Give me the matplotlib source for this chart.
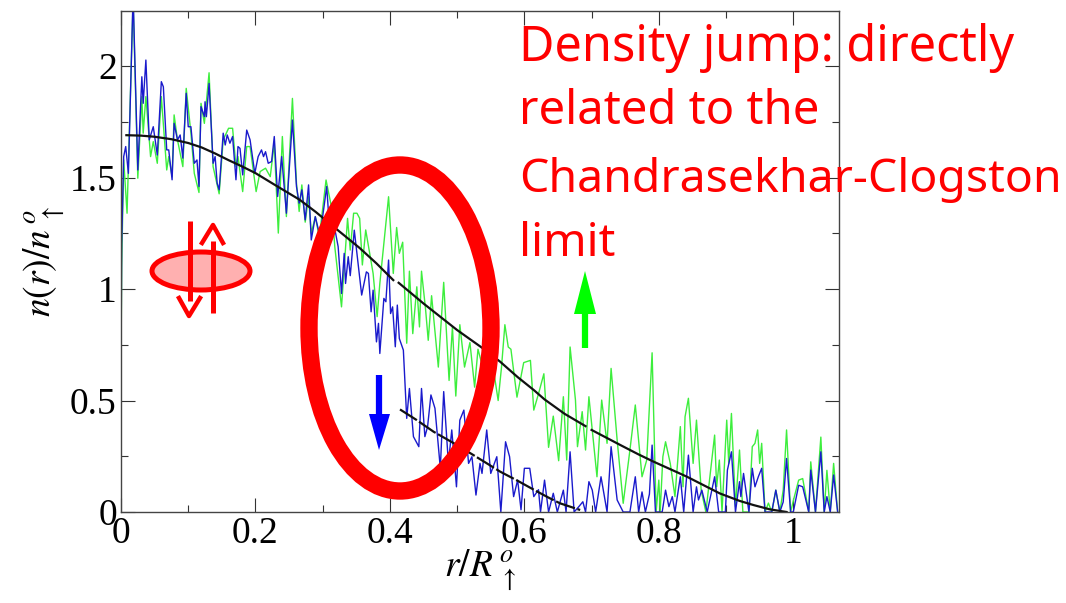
import matplotlib
matplotlib.use("Agg")
import matplotlib.pyplot as plt
from matplotlib.patches import Ellipse, Polygon

plt.rcParams['mathtext.fontset'] = 'stix'
plt.rcParams['font.family'] = ['Liberation Serif', 'DejaVu Serif']

# spin up density (green)
up_x = [0, .001, .004, .009, .018, .025, .031, .033, .037, .044, .048, .054, .06, .068, .071, .076, .079, .084, .092,
        .097, .104, .109, .116, .119, .124, .131, .137, .146, .152, .16, .166, .171, .174, .181, .187, .192, .201, .207,
        .215, .222, .228, .234, .24, .246, .255, .261, .265, .269, .274, .279, .283, .289, .295, .305, .314, .318, .328,
        .337, .341, .346, .351, .355, .359, .364, .369, .375, .381, .385, .398, .405, .41, .414, .419, .425, .429, .434,
        .44, .444, .447, .453, .457, .462, .472, .48, .488, .493, .498, .504, .511, .519, .526, .531, .538, .55, .561,
        .566, .571, .576, .58, .589, .599, .609, .614, .621, .629, .636, .643, .651, .658, .663, .668, .676, .679, .686,
        .691, .696, .708, .715, .723, .729, .738, .747, .757, .765, .775, .782, .79, .796, .8, .802, .806, .81, .817,
        .824, .832, .836, .839, .844, .851, .856, .863, .87, .883, .886, .89, .894, .901, .904, .908, .914, .92, .925,
        .934, .939, .943, .947, .95, .953, .958, .963, .968, .974, .98, .985, .99, .996, 1.0, 1.008, 1.014, 1.023,
        1.026, 1.033, 1.041, 1.046, 1.05, 1.055, 1.06, 1.066]
up_y = [.65, 1.1, 1.579, 1.34, 2.3, 1.497, 1.863, 1.699, 1.863, 1.594, 1.661, 1.564, 1.863, 1.534, 1.594, 1.504, 1.781,
        1.669, 1.549, 1.9, 1.699, 1.519, 1.433, 1.833, 1.743, 1.97, 1.549, 1.427, 1.669, 1.721, 1.721, 1.549, 1.594,
        1.437, 1.639, 1.639, 1.437, 1.527, 1.542, 1.504, 1.654, 1.251, 1.684, 1.325, 1.855, 1.475, 1.348, 1.467, 1.30,
        1.414, 1.25, 1.324, 1.234, 1.489, 1.354, 1.19, .92, 1.317, 1.175, 1.34, 1.34, 1.317, 1.108, 1.265, 1.175, 1.07,
        .876, 1.025, 1.414, 1.07, 1.276, 1.16, 1.21, .757, 1.08, .80, 1.01, .83, 1.08, .91, .77, .97, .65, 1.03, .59,
        .83, .52, .84, .65, .76, .56, .73, .65, .72, .50, .65, .84, .74, .73, .515, .67, .68, .457, .53, .62, .29, .43,
        .23, .517, .233, .74, .502, .293, .45, .278, .517, .158, .502, .308, .644, .323, .039, .278, .48, .158, .233,
        .714, 0, .143, 0, .248, .315, .218, .069, .383, .113, .427, .51, .218, .412, .098, 0, .345, .113, .233, 0, .412,
        .218, .442, .024, .278, 0, 0, .293, .308, .368, .218, .308, 0, .04, 0, .098, 0, .098, .368, 0, .05, .143, .15, 0,
        .225, 0, .336, 0, .187, 0, .218, 0]

# spin down density (blue)
down_x = [0, .001, .004, .007, .011, .018, .025, .031, .033, .037, .042, .048, .054, .06, .063, .068, .071, .076, .079,
          .084, .088, .092, .097, .10, .104, .109, .113, .116, .119, .124, .125, .127, .131, .137, .14, .143, .146, .152,
          .155, .158, .162, .166, .171, .174, .177, .181, .187, .192, .199, .204, .209, .212, .215, .219, .224, .228,
          .233, .239, .246, .255, .261, .265, .269, .274, .279, .283, .289, .296, .306, .311, .318, .323, .328, .332,
          .334, .338, .341, .347, .358, .365, .368, .372, .375, .38, .383, .385, .391, .394, .398, .401, .404, .408,
          .411, .414, .42, .425, .429, .435, .443, .447, .452, .456, .461, .467, .475, .48, .487, .492, .499, .504, .51,
          .517, .522, .528, .534, .537, .544, .55, .559, .565, .572, .578, .584, .59, .595, .60, .608, .614, .621, .624,
          .63, .636, .643, .649, .658, .662, .668, .674, .681, .687, .691, .696, .701, .706, .714, .723, .729, .738, .747,
          .757, .765, .77, .775, .78, .786, .79, .795, .805, .81, .815, .82, .824, .832, .837, .844, .851, .856, .859,
          .864, .872, .883, .889, .899, .902, .908, .914, .92, .922, .926, .934, .939, .943, .948, .953, .958, .968, .974,
          .98, .985, .99, .996, 1.0, 1.008, 1.014, 1.023, 1.026, 1.033, 1.041, 1.046, 1.05, 1.055, 1.06, 1.066]
down_y = [.65, 1.2, 1.594, 1.639, 1.519, 2.32, 1.534, 1.952, 1.833, 2.027, 1.669, 1.728, 1.601, 1.93, 1.907, 1.624, 1.624,
          1.49, 1.743, 1.669, 1.691, 1.587, 1.878, 1.728, 1.728, 1.564, 1.579, 1.46, 1.818, 1.773, 1.84, 1.773, 1.922,
          1.564, 1.594, 1.475, 1.445, 1.699, 1.646, 1.691, 1.654, 1.684, 1.49, 1.639, 1.631, 1.512, 1.713, 1.669, 1.519,
          1.594, 1.624, 1.594, 1.616, 1.564, 1.572, 1.684, 1.415, 1.594, 1.34, 1.758, 1.46, 1.385, 1.445, 1.31, 1.467,
          1.22, 1.325, 1.236, 1.46, 1.234, 1.27, 1.19, .98, 1.16, 1.025, 1.145, 1.06, 1.264, .973, 1.077, 1.07, .898,
          .995, .763, .846, .711, .958, .943, 1.13, .89, .92, .741, .928, .778, .726, .42, .554, .338, .293, .554, .338,
          .382, .525, .465, .196, .54, .218, .368, .113, .412, .457, .218, .248, .076, .218, .173, .368, .173, .248, 0,
          .315, .248, .069, .143, .01, .196, .196, .069, .1, 0, .143, 0, .084, 0, .098, 0, .27, 0, .024, .046, 0, .136,
          .098, 0, .158, 0, .293, .054, 0, 0, .158, 0, .09, 0, .08, .30, 0, 0, .098, .024, .069, 0, .158, 0, .255, 0, .113,
          .054, .098, 0, .158, 0, 0, .188, .27, 0, .136, .069, .173, 0, .196, .113, .158, .196, 0, 0, .098, 0, .045, .24,
          0, 0, .12, .113, 0, .188, 0, .27, 0, .069, 0, .166, 0]

# theory curves
fit_up1_x = [.008, .03, .05, .075, .1, .12, .14, .16, .18, .2, .23, .266, .29, .316, .355, .38, .405]
fit_up1_y = [1.69, 1.688, 1.683, 1.672, 1.655, 1.635, 1.608, 1.578, 1.55, 1.52, 1.465, 1.40, 1.345, 1.28, 1.184, 1.115, 1.04]
fit_up2_x = [.413, .45, .5, .542, .564, .59, .614, .63, .66, .691]
fit_up2_y = [1.028, .935, .816, .726, .674, .605, .547, .505, .44, .385]
fit_up3_x = [.70, .743, .77, .792, .82, .842, .87, .891, .92, .941, .965, .99]
fit_up3_y = [.368, .30, .258, .226, .188, .158, .115, .083, .05, .031, .012, 0]
fit_down_x = [.415, .44, .465, .5, .54, .564, .59, .614, .635, .653, .683]
fit_down_y = [.46, .412, .36, .30, .226, .181, .14, .1, .066, .039, .009]

x_ticks = [0, .2, .4, .6, .8, 1]
x_tick_labels = ["0", "0.2", "0.4", "0.6", "0.8", "1"]
y_ticks = [0, .5, 1, 1.5, 2]
y_tick_labels = ["0", "0.5", "1", "1.5", "2"]

note_lines = ["Density jump: directly", "related to the", "Chandrasekhar-Clogston", "limit"]

fig = plt.figure(figsize=(10.66, 6.03), dpi=100)
ax = fig.add_axes([121 / 1066, 1 - 512 / 603, 718 / 1066, 501 / 603])

ax.plot(up_x, up_y, color='#3dee3d', lw=1.0)
ax.plot(down_x, down_y, color='#1a1acc', lw=1.0)
ax.plot(fit_up1_x, fit_up1_y, color='#111111', lw=1.6)
ax.plot(fit_up2_x, fit_up2_y, color='#111111', lw=1.6)
ax.plot(fit_up3_x, fit_up3_y, color='#111111', lw=1.6)
ax.plot(fit_down_x, fit_down_y, color='#111111', lw=1.6, dashes=(9, 1.2))

ax.set_xlim(0, 1.068)
ax.set_ylim(0, 2.247)
ax.set_xticks(x_ticks, x_tick_labels)
ax.set_yticks(y_ticks, y_tick_labels)
ax.set_xticks([.1, .3, .5, .7, .9], minor=True)
ax.set_yticks([.25, .75, 1.25, 1.75], minor=True)
ax.tick_params(which='major', direction='in', length=10, width=0.8, top=True, right=True, labelsize=27, pad=3, color='#333333')
ax.tick_params(which='minor', direction='in', length=5, width=0.8, top=True, right=True, color='#333333')
for spine in ax.spines.values():
    spine.set_color('#444444')
    spine.set_linewidth(1.0)

ax.set_xlabel(r'$r/R^{\,o}_{\ \uparrow}$', fontsize=27, labelpad=-2)
ax.set_ylabel(r'$n(r)/n^{\,o}_{\ \uparrow}$', fontsize=27, labelpad=2)

# overlay in picture pixels for the slide annotations
over = fig.add_axes([0, 0, 1, 1], facecolor='none')
over.set_xlim(0, 1066)
over.set_ylim(603, 0)
over.axis('off')

over.add_patch(Ellipse((400, 328), 182, 326, fc='none', ec='#ff0000', lw=12.5))

# spin pair glyph
over.add_patch(Ellipse((201, 271), 98, 38, fc='#ffb0b0', ec='#ff0000', lw=3.6))
over.plot([190, 190], [221, 301], color='#ff0000', lw=3.6, solid_capstyle='butt')
over.plot([213, 213], [241, 313], color='#ff0000', lw=3.6, solid_capstyle='butt')
over.plot([202, 213, 223], [243, 225, 243], color='#ff0000', lw=3.2)
over.plot([179, 189, 200], [298, 316, 298], color='#ff0000', lw=3.2)

# green and blue arrows
over.plot([585, 585], [348, 308], color='#00ff00', lw=4.5, solid_capstyle='butt')
over.add_patch(Polygon([(574, 314), (585, 271), (596, 314)], fc='#00ff00', ec='none'))
over.plot([379, 379], [375, 418], color='#0000ff', lw=4.5, solid_capstyle='butt')
over.add_patch(Polygon([(369, 414), (390, 414), (379, 450)], fc='#0000ff', ec='none'))

for note, y_pos, size in zip(note_lines, [48, 111, 180, 244], [35, 34, 33.4, 33.4]):
    over.text(519, y_pos, note, color='#ff0000', fontsize=size, family='Noto Sans', ha='left', va='center')

fig.savefig("out.png", dpi=100)
